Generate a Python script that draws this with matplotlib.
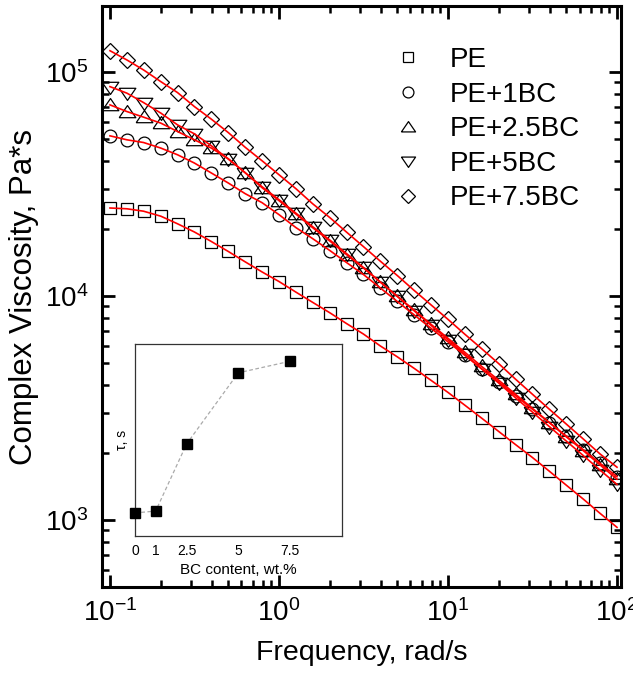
import matplotlib
matplotlib.use("Agg")
import matplotlib.pyplot as plt
from matplotlib.ticker import LogLocator, NullFormatter

plt.rcParams['font.family'] = ['Liberation Sans', 'DejaVu Sans']
plt.rcParams['mathtext.fontset'] = 'custom'
plt.rcParams['mathtext.rm'] = 'Liberation Sans'
plt.rcParams['axes.unicode_minus'] = False

# frequency sweep, rad/s
freq = [0.1, 0.126, 0.158, 0.2, 0.251, 0.316, 0.398, 0.501, 0.631, 0.794,
        1.0, 1.26, 1.58, 2.0, 2.51, 3.16, 3.98, 5.01, 6.31, 7.94,
        10.0, 12.6, 15.8, 20.0, 25.1, 31.6, 39.8, 50.1, 63.1, 79.4, 100.0]

# complex viscosity, Pa*s
eta_pe = [24700, 24500, 23900, 22700, 21000, 19300, 17500, 15800, 14200, 12800,
          11600, 10400, 9370, 8410, 7530, 6760, 5980, 5350, 4750, 4200,
          3710, 3250, 2850, 2480, 2170, 1900, 1650, 1430, 1240, 1070, 927]
eta_1bc = [51860, 49780, 48420, 45720, 42690, 39200, 35390, 31940, 28620, 26090,
           23070, 20190, 18040, 15950, 14100, 12470, 10850, 9450, 8230, 7170,
           6240, 5430, 4730, 4120, 3590, 3120, 2720, 2370, 2060, 1790, 1560]
eta_25bc = [71290, 66560, 62840, 59090, 54220, 49780, 45720, 41000, 35500, 30430,
            26640, 23190, 20190, 17580, 15300, 13330, 11530, 9980, 8640, 7470,
            6470, 5600, 4850, 4200, 3640, 3150, 2720, 2350, 2040, 1760, 1520]
eta_5bc = [86000, 80400, 73000, 65500, 58050, 52930, 46820, 40850, 35490, 30740,
           26910, 23420, 20400, 17760, 15460, 13400, 11540, 9950, 8580, 7390,
           6370, 5490, 4730, 4080, 3510, 3030, 2610, 2250, 1940, 1670, 1440]
eta_75bc = [124400, 113100, 102100, 90500, 80900, 70040, 61550, 53640, 46100, 40140,
            34770, 30110, 25820, 22370, 19280, 16610, 14290, 12340, 10580, 9120,
            7860, 6740, 5820, 4980, 4250, 3640, 3120, 2680, 2300, 1970, 1720]

labels = ["PE", "PE+1BC", "PE+2.5BC", "PE+5BC", "PE+7.5BC"]

# inset: relaxation time vs BC content
bc_content = [0, 1, 2.5, 5, 7.5]
tau = [0.12, 0.13, 0.48, 0.85, 0.91]
bc_ticks = ["0", "1", "2.5", "5", "7.5"]

tri_up = [(-1.2, -0.75), (1.2, -0.75), (0, 1.0), (-1.2, -0.75)]
tri_down = [(-1.2, 0.75), (1.2, 0.75), (0, -1.0), (-1.2, 0.75)]

fig = plt.figure(figsize=(6.33, 6.74), dpi=100)
ax = fig.add_axes([102 / 633, 1 - 587 / 674, 519 / 633, 581 / 674])

series = [eta_pe, eta_1bc, eta_25bc, eta_5bc, eta_75bc]
markers = ['s', 'o', tri_up, tri_down, 'D']
sizes = [8.6, 9.2, 12, 12, 7.8]
handles = []
for eta, m, ms, lab in zip(series, markers, sizes, labels):
    h, = ax.plot(freq, eta, linestyle='none', marker=m, ms=ms, mfc='none',
                 mec='black', mew=0.9, label=lab, zorder=3)
    handles.append(h)
for eta in series:
    ax.plot(freq, eta, color='#ff0000', lw=1.2, zorder=4)

ax.set_xscale('log')
ax.set_yscale('log')
ax.set_xlim(0.0897, 105.6)
ax.set_ylim(502, 197000)

for a in (ax.xaxis, ax.yaxis):
    a.set_major_locator(LogLocator(base=10))
    a.set_minor_locator(LogLocator(base=10, subs=range(2, 10)))
    a.set_minor_formatter(NullFormatter())

ax.tick_params(which='both', direction='in', top=True, right=True, labelsize=20)
ax.tick_params(which='major', length=9, width=2)
ax.tick_params(which='minor', length=5, width=1.8)
ax.tick_params(axis='x', which='major', pad=9)
ax.tick_params(axis='y', which='major', pad=10)
for s in ax.spines.values():
    s.set_linewidth(2.2)

ax.set_xlabel("Frequency, rad/s", fontsize=20.5, labelpad=9)
ax.set_ylabel("Complex Viscosity, Pa*s", fontsize=22.5, labelpad=4)

leg = ax.legend(handles=handles, loc='upper left',
                bbox_to_anchor=((394 - 102) / 519, 1 - (47 - 6) / 581),
                frameon=False, fontsize=20, handlelength=1.0, handletextpad=1.0,
                labelspacing=0.31, borderpad=0, borderaxespad=0, markerscale=0.85)

# inset
ins = fig.add_axes([135 / 633, 1 - 536 / 674, 206.7 / 633, 192 / 674])
ins.plot(bc_content, tau, linestyle=(0, (3, 2)), color='#aaaaaa', lw=0.9, zorder=2)
ins.plot(bc_content, tau, linestyle='none', marker='s', ms=7.5, color='black',
         clip_on=False, zorder=3)
ins.set_xlim(0, 10)
ins.set_ylim(0, 1)
ins.set_xticks(bc_content)
ins.set_xticklabels(bc_ticks)
ins.set_yticks([])
ins.tick_params(axis='x', length=0, labelsize=10, pad=6)
ins.set_xlabel("BC content, wt.%", fontsize=11, labelpad=3)
ins.set_ylabel("τ, s", fontsize=10, labelpad=4)
for s in ins.spines.values():
    s.set_linewidth(0.9)
    s.set_color('#333333')

fig.savefig("out.png", dpi=100)
